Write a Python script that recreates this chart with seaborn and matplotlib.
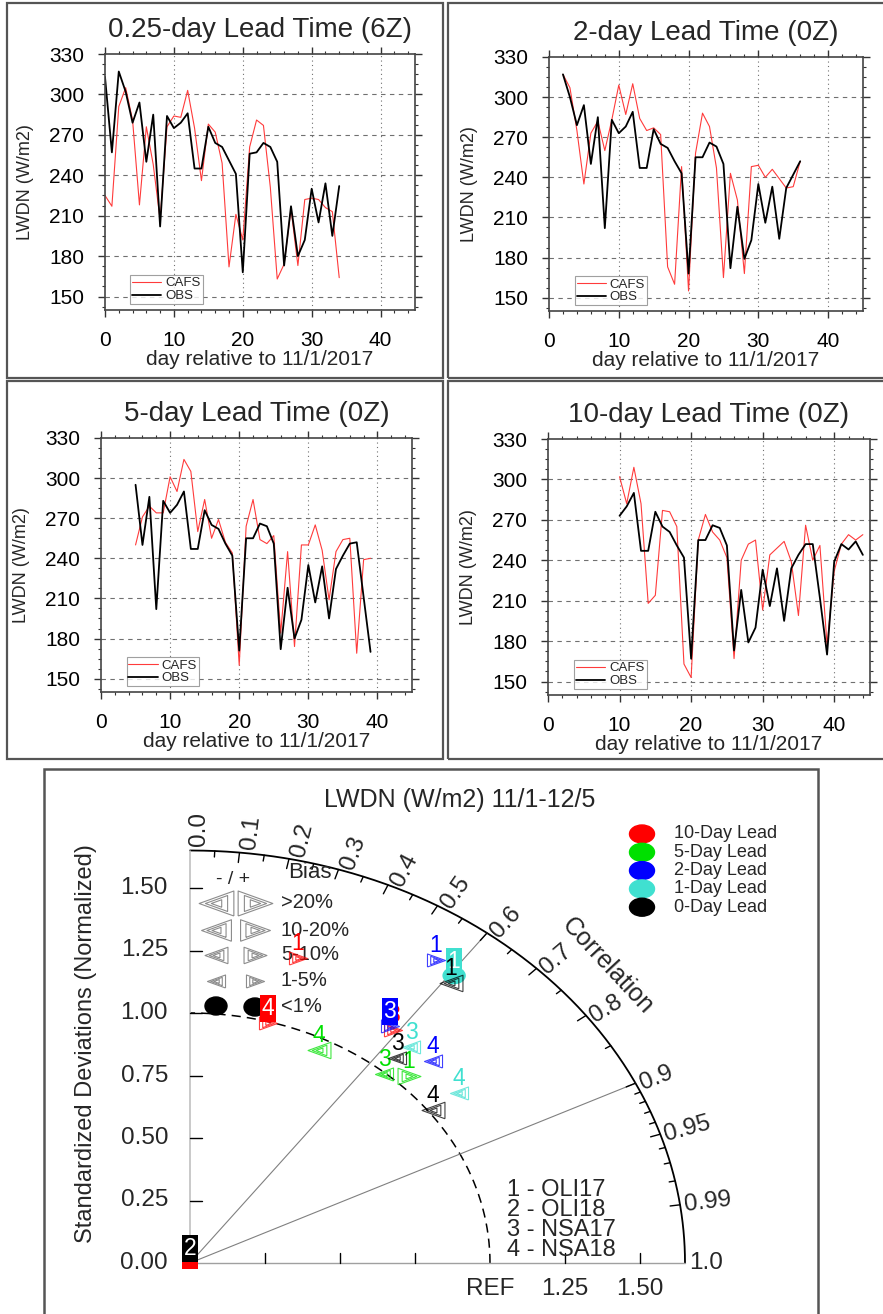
import numpy as np
import pandas as pd
import matplotlib
matplotlib.use("Agg")
import matplotlib.pyplot as plt
import seaborn as sns
from matplotlib.patches import Rectangle, Ellipse
from matplotlib.ticker import MultipleLocator

sns.set_theme(style="white")
plt.rcParams["font.family"] = ["Liberation Sans", "DejaVu Sans"]

# ---------------- time-series data (LWDN, W/m2) ----------------
days_025 = list(range(0, 35))
obs_025 = [313, 257, 317, 302, 279, 294, 250, 285, 202, 284, 275, 279, 286, 245, 245,
           276, 264, 261, 251, 241, 168, 256, 257, 264, 261, 250, 173, 217, 180, 192,
           230, 205, 234, 195, 232]
cafs_025 = [225, 217, 291, 305, 281, 218, 276, 248, 207, 276, 284, 283, 303, 275, 236,
            278, 272, 249, 172, 211, 192, 261, 281, 277, 231, 163, 174, 215, 173, 222,
            223, 222, 216, 213, 164]

days_2 = list(range(2, 37))
obs_2 = [317, 300, 279, 294, 250, 285, 202, 283, 273, 278, 289, 247, 247, 276, 265,
         262, 252, 243, 168, 255, 255, 266, 263, 250, 172, 218, 179, 193, 235, 206,
         233, 194, 232, 242, 252]
cafs_2 = [317, 307, 275, 235, 273, 282, 260, 283, 309, 287, 310, 284, 275, 277, 272,
          173, 160, 248, 155, 258, 288, 278, 247, 165, 243, 223, 168, 248, 249, 240,
          246, 239, 232, 233, 252]

days_5 = list(range(5, 40))
obs_5 = [295, 250, 286, 202, 283, 274, 280, 290, 247, 247, 276, 265, 262, 251, 242,
         171, 255, 255, 266, 264, 251, 172, 218, 180, 194, 235, 207, 234, 195, 232,
         242, 251, 252, 211, 170]
cafs_5 = [250, 271, 279, 274, 274, 301, 290, 314, 305, 260, 284, 255, 269, 252, 244,
          160, 264, 284, 254, 251, 257, 184, 245, 174, 250, 250, 265, 246, 209, 245,
          254, 255, 169, 239, 240]

days_10 = list(range(10, 45))
obs_10 = [273, 280, 290, 247, 247, 276, 265, 261, 251, 242, 167, 255, 255, 266, 264,
          251, 173, 218, 179, 190, 233, 206, 234, 195, 234, 244, 252, 252, 212, 170,
          239, 252, 248, 254, 244]
cafs_10 = [302, 282, 309, 282, 208, 214, 277, 276, 265, 163, 153, 255, 274, 261, 255,
           242, 167, 240, 252, 255, 203, 244, 249, 254, 239, 199, 266, 240, 251, 177,
           232, 252, 259, 255, 259]

panel_titles = ["0.25-day Lead Time (6Z)", "2-day Lead Time (0Z)",
                "5-day Lead Time (0Z)", "10-day Lead Time (0Z)"]
x_ticks = [0, 10, 20, 30, 40]
y_ticks = [150, 180, 210, 240, 270, 300, 330]

# ---------------- Taylor diagram data ----------------
lead_names = ["10-Day Lead", "5-Day Lead", "2-Day Lead", "1-Day Lead", "0-Day Lead"]
lead_colors = ["#ff0000", "#00e000", "#0000ff", "#40e0d0", "#000000"]
site_names = ["OLI17", "OLI18", "NSA17", "NSA18"]

pt_lead = ["10-Day Lead", "10-Day Lead", "10-Day Lead", "10-Day Lead",
           "5-Day Lead", "5-Day Lead", "5-Day Lead",
           "2-Day Lead", "2-Day Lead", "2-Day Lead",
           "1-Day Lead", "1-Day Lead", "1-Day Lead",
           "0-Day Lead", "0-Day Lead", "0-Day Lead", "0-Day Lead"]
pt_case = [1, 4, 3, 2, 4, 3, 1, 1, 3, 4, 3, 4, 1, 1, 3, 4, 2]
pt_std = [1.272, 0.995, 1.152, 0.0, 0.954, 0.995, 1.045, 1.462, 1.159, 1.144,
          1.136, 1.126, 1.448, 1.418, 1.072, 1.015, 0.0]
pt_corr = [0.283, 0.261, 0.588, 0.0, 0.451, 0.650, 0.698, 0.561, 0.575, 0.708,
           0.649, 0.797, 0.608, 0.613, 0.644, 0.798, 0.0]
pt_bias = ["+1-5%", "+1-5%", "+1-5%", "", "-5-10%", "-1-5%", "+5-10%", "+1-5%",
           "+1-5%", "-1-5%", "-1-5%", "-1-5%", "<1%", "-5-10%", "-1-5%", "-5-10%", ""]
pt_boxed = [False, True, False, True, False, False, False, False, True, False,
            False, False, True, False, False, False, True]

bias_bins = [">20%", "10-20%", "5-10%", "1-5%", "<1%"]
bias_sizes = {">20%": 25.0, "10-20%": 21.5, "5-10%": 16.5, "1-5%": 13.0}

# ---------------- figure ----------------
W, H = 883, 1314
fig = plt.figure(figsize=(W / 100, H / 100), dpi=100)


def fig_rect(x0, y0, x1, y1):
    return [x0 / W, 1 - y1 / H, (x1 - x0) / W, (y1 - y0) / H]


def frame(x0, y0, x1, y1, lw=1.6):
    r = fig_rect(x0, y0, x1, y1)
    fig.add_artist(Rectangle((r[0], r[1]), r[2], r[3], transform=fig.transFigure,
                             fill=False, ec="#555555", lw=lw))


frame(7, 3, 443, 378)
frame(448, 3, 900, 378)
frame(7, 381, 443, 759)
frame(448, 381, 900, 759)
frame(44, 769, 818, 1340, lw=1.8)


def draw_panel(px, title, days, cafs, obs):
    x0, y0, x1, y1 = px
    ax = fig.add_axes(fig_rect(x0, y0, x1, y1))
    df = pd.DataFrame({"day": days, "CAFS": cafs, "OBS": obs})
    sns.lineplot(data=df, x="day", y="CAFS", color="#ff3b3b", lw=0.8,
                 label="CAFS", ax=ax)
    sns.lineplot(data=df, x="day", y="OBS", color="black", lw=1.3,
                 label="OBS", ax=ax)
    ax.set_xlim(0, 45)
    ax.set_ylim(140, 330)
    ax.set_xticks(x_ticks)
    ax.set_yticks(y_ticks)
    ax.xaxis.set_minor_locator(MultipleLocator(2))
    ax.yaxis.set_minor_locator(MultipleLocator(7.5))
    for xv in x_ticks[1:]:
        ax.axvline(xv, color="#707070", lw=0.8, ls=(0, (1, 3)), zorder=0)
    for yv in y_ticks[:-1]:
        ax.axhline(yv, color="#707070", lw=0.8, ls=(0, (4, 4)), zorder=0)
    ax.tick_params(which="both", direction="out", top=True, right=True,
                   bottom=True, left=True, colors="#333333", labelcolor="black")
    ax.tick_params(which="major", length=5, width=1.0, labelsize=15)
    ax.tick_params(axis="x", which="major", pad=10)
    ax.tick_params(axis="y", which="major", pad=10)
    ax.tick_params(which="minor", length=2.5, width=0.8)
    for sp in ax.spines.values():
        sp.set_color("#444444")
        sp.set_linewidth(1.2)
    ax.set_title(title, fontsize=20, pad=12)
    ax.set_xlabel("day relative to 11/1/2017", fontsize=15)
    ax.set_ylabel("LWDN (W/m2)", fontsize=13)
    ax.xaxis.set_label_coords(0.5, -40 / (y1 - y0))
    ax.yaxis.set_label_coords(-71 / (x1 - x0), 0.5)
    leg = ax.legend(loc="lower left", bbox_to_anchor=(0.082, 0.022), fontsize=9.5,
                    frameon=True, fancybox=False, edgecolor="#888888",
                    handlelength=2.2, handletextpad=0.3, borderpad=0.15,
                    labelspacing=0.05, borderaxespad=0)
    leg.get_frame().set_linewidth(0.8)
    return ax


draw_panel((105, 54, 415, 310), panel_titles[0], days_025, cafs_025, obs_025)
draw_panel((549, 57, 863, 311), panel_titles[1], days_2, cafs_2, obs_2)
draw_panel((101, 438, 412, 692), panel_titles[2], days_5, cafs_5, obs_5)
draw_panel((548, 439, 870, 695), panel_titles[3], days_10, cafs_10, obs_10)

# ---------------- Taylor diagram ----------------
SX, SY = 300.0, 250.0      # pixels per normalized unit (x, y)
RMAX = 1.65
OX, OY = 190.0, 1263.0
ax = fig.add_axes(fig_rect(OX, OY - RMAX * SY, OX + RMAX * SX, OY))
ax.set_xlim(0, RMAX)
ax.set_ylim(0, RMAX)
ax.axis("off")

th = np.linspace(0, np.pi / 2, 400)
ax.plot(RMAX * np.cos(th), RMAX * np.sin(th), color="black", lw=1.3, clip_on=False)
ax.plot(np.cos(th), np.sin(th), color="black", lw=1.1, ls=(0, (6, 4)), clip_on=False)
ax.plot([0, RMAX], [0, 0], color="#a0a0a0", lw=1.0, clip_on=False)
ax.plot([0, 0], [0, RMAX], color="#c0c0c0", lw=1.2, clip_on=False)
for c in (0.6, 0.9):
    ax.plot([0, RMAX * c], [0, RMAX * np.sqrt(1 - c * c)], color="#808080",
            lw=0.8, clip_on=False)

major_r = [0.1, 0.2, 0.3, 0.4, 0.5, 0.6, 0.7, 0.8, 0.9, 0.95, 0.99]
minor_r = [0.05, 0.15, 0.25, 0.35, 0.45, 0.55, 0.65, 0.75, 0.85,
           0.91, 0.92, 0.93, 0.94, 0.96, 0.97, 0.98]


def radial_len(c, px_len):
    s = np.sqrt(1 - c * c)
    return px_len / np.hypot(SX * c, SY * s)


for group, plen in ((major_r, 10), (minor_r, 6)):
    for c in group:
        s = np.sqrt(1 - c * c)
        r0 = RMAX - radial_len(c, plen)
        ax.plot([r0 * c, RMAX * c], [r0 * s, RMAX * s], color="black", lw=1.0,
                clip_on=False)

corr_labels = [0.0] + major_r + [1.0]
for c in corr_labels:
    s = np.sqrt(max(0.0, 1 - c * c))
    phi = np.arctan2(SY * s, SX * c)
    shift = 9 * np.sin(phi)
    xp = RMAX * c + (4 * np.cos(phi) + shift * np.sin(phi)) / SX
    yp = RMAX * s + (4 * np.sin(phi) - shift * np.cos(phi)) / SY
    txt = f"{c:.2f}" if c in (0.95, 0.99) else f"{c:.1f}"
    ax.text(xp, yp, txt, rotation=np.degrees(phi), rotation_mode="anchor",
            ha="left", va="center", fontsize=17.5, clip_on=False)

# standard deviation axes
for v in [0.25, 0.5, 0.75, 1.0, 1.25, 1.5]:
    ax.plot([0, 12 / SX], [v, v], color="black", lw=1.0, clip_on=False)
for v in [0.0, 0.25, 0.5, 0.75, 1.0, 1.25, 1.5]:
    ax.text(-22 / SX, v, f"{v:.2f}", ha="right", va="center", fontsize=17.5)
for v in [0.25, 0.5, 0.75, 1.25, 1.5]:
    ax.plot([v, v], [0, 10 / SY], color="black", lw=1.0, clip_on=False)
for v, t in ((1.0, "REF"), (1.25, "1.25"), (1.5, "1.50")):
    ax.text(v, -26 / SY, t, ha="center", va="center", fontsize=17.5)

ax.text(-104 / SX, 219 / SY, "Standardized Deviations (Normalized)", rotation=90,
        ha="center", va="center", fontsize=17)
ax.text(270 / SX, 463 / SY, "LWDN (W/m2) 11/1-12/5", ha="center", va="center",
        fontsize=18)
ax.text(418 / SX, 297 / SY, "Correlation", rotation=-47, rotation_mode="anchor",
        ha="center", va="center", fontsize=18)

# lead-time legend
for i, (name, col) in enumerate(zip(lead_names, lead_colors)):
    yv = (OY - (834 + 18.3 * i)) / SY
    ax.add_patch(Ellipse((452 / SX, yv), 25 / SX, 18 / SY, color=col,
                         clip_on=False, zorder=5))
    ax.text(484 / SX, yv, name, ha="left", va="center", fontsize=13)

# bias legend
tri_right = [(-1, -0.72), (1, 0), (-1, 0.72), (-1, -0.72)]
tri_left = [(1, -0.72), (-1, 0), (1, 0.72), (1, -0.72)]


def nested_triangle(x, y, verts, size, color, alpha=1.0, z=6):
    for f in (1.0, 0.64, 0.3):
        ax.plot(x, y, marker=verts, ms=size * f, mfc="none", mec=color, mew=0.8,
                ls="none", alpha=alpha, clip_on=False, zorder=z)


ax.text(43 / SX, (OY - 879) / SY, "- / +", ha="center", va="center", fontsize=14)
ax.text(98 / SX, (OY - 873) / SY, "Bias", ha="left", va="center", fontsize=16)
row_y = [903, 930, 955, 981, 1006]
for b, ry in zip(bias_bins, row_y):
    yv = (OY - ry) / SY
    if b == "<1%":
        ax.add_patch(Ellipse((26 / SX, yv), 22 / SX, 18 / SY, color="black",
                             clip_on=False, zorder=5))
        ax.add_patch(Ellipse((65 / SX, yv - 1 / SY), 22 / SX, 18 / SY,
                             color="black", clip_on=False, zorder=5))
    else:
        nested_triangle(26 / SX, yv, tri_left, bias_sizes[b], "#8c8c8c")
        nested_triangle(65 / SX, yv, tri_right, bias_sizes[b], "#8c8c8c")
    ax.text(91 / SX, yv, b, ha="left", va="center", fontsize=14.5)

# case points
color_of = dict(zip(lead_names, lead_colors))
for k in range(len(pt_case)):
    col = color_of[pt_lead[k]]
    r, c = pt_std[k], pt_corr[k]
    x, y = r * c, r * np.sqrt(1 - c * c)
    z = 10 + 2 * k
    b = pt_bias[k]
    if b == "<1%":
        ax.add_patch(Ellipse((x, y), 22 / SX, 16 / SY, color=col, clip_on=False,
                             zorder=z))
    elif b:
        verts = tri_right if b[0] == "+" else tri_left
        nested_triangle(x, y, verts, bias_sizes[b[1:]], col, alpha=0.75, z=z)
    dy = 0.03 if (r == 0 and col == "#ff0000") else 0.058
    if pt_boxed[k]:
        ax.text(x, y + dy, str(pt_case[k]), ha="center", va="center",
                fontsize=16.5, color="white", zorder=z + 1, clip_on=False,
                bbox=dict(boxstyle="square,pad=0.08", fc=col, ec="none"))
    else:
        ax.text(x, y + dy, str(pt_case[k]), ha="center", va="center",
                fontsize=16.5, color=col, zorder=z + 1, clip_on=False)

# case key
for i, name in enumerate(site_names):
    ax.text(317 / SX, (OY - (1190 + 20 * i)) / SY, f"{i + 1} - {name}",
            ha="left", va="center", fontsize=17)

fig.savefig("out.png", dpi=100)
